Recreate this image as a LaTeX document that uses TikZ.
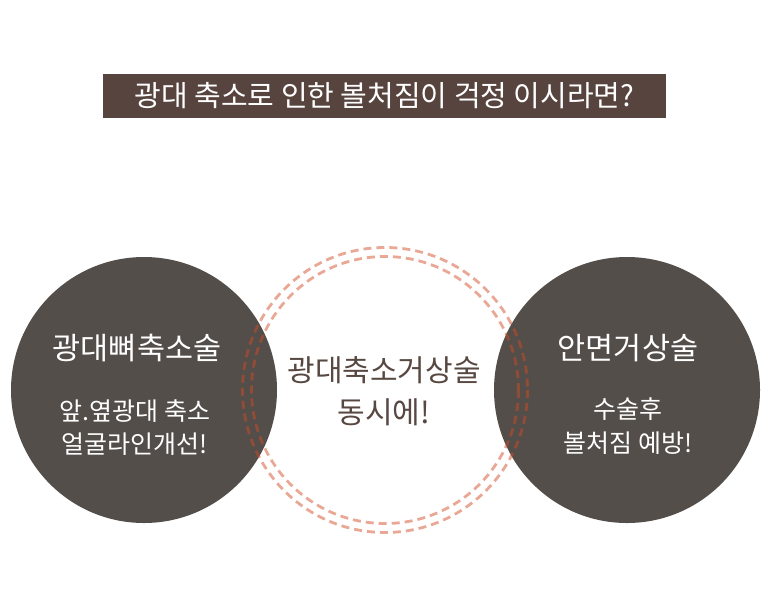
\documentclass[tikz,border=0pt]{standalone}
\usepackage{fontspec}
\setmainfont{Noto Sans CJK KR}
\definecolor{barbrown}{RGB}{87,68,62}
\definecolor{darkcirc}{RGB}{84,78,74}
\definecolor{dashsalmon}{RGB}{210,75,35}
\definecolor{midtext}{RGB}{88,72,66}
\tikzset{
  darkdisc/.style={circle, fill=darkcirc, draw=none, minimum size=266pt, inner sep=0pt},
  dashring/.style={draw=dashsalmon, draw opacity=0.48, line width=2.8pt, dash pattern=on 8pt off 5pt},
  headtext/.style={text=white, font=\fontsize{30.5}{34}\selectfont, inner sep=0pt},
  subtext/.style={text=white, font=\fontsize{25}{28}\selectfont, inner sep=0pt},
  centertext/.style={text=midtext, font=\fontsize{30}{34}\selectfont, inner sep=0pt},
}
\begin{document}
\begin{tikzpicture}[x=1pt,y=-1pt]
\useasboundingbox (0,0) rectangle (770,600);
\fill[white] (0,0) rectangle (770,600);
% title bar
\node[fill=barbrown, minimum width=563pt, minimum height=44pt, inner sep=0pt] (bar) at (384.5,96) {};
\node[text=white, font=\fontsize{29}{32}\selectfont, inner sep=0pt] (title) at (bar.center) {광대 축소로 인한 볼처짐이 걱정 이시라면?};
% dark circles
\node[darkdisc] (left) at (144,390) {};
\node[darkdisc] (right) at (627,390) {};
% dashed rings
\coordinate (mid) at (385,390);
\draw[dashring] (mid) circle[radius=142.5];
\draw[dashring] (mid) circle[radius=133.5];
% texts
\node[headtext] (l1) at (137,348) {광대뼈축소술};
\node[subtext] (l2) at (135,411) {앞.옆광대 축소};
\node[subtext] (l3) at (135,444) {얼굴라인개선!};
\node[headtext] (r1) at (628,348) {안면거상술};
\node[subtext] (r2) at (628,409) {수술후};
\node[subtext] (r3) at (628,443) {볼처짐 예방!};
\node[centertext] (c1) at (384,370) {광대축소거상술};
\node[centertext] (c2) at (384,412) {동시에!};
\end{tikzpicture}
\end{document}
